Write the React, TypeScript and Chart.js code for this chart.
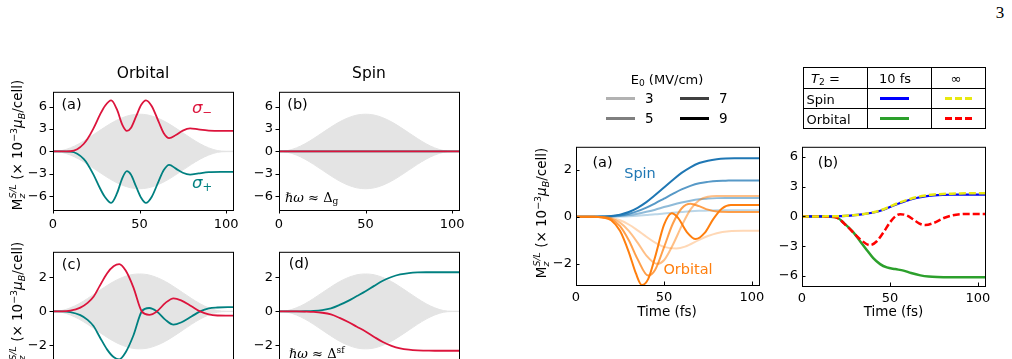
import React, { useEffect, useRef } from "react";
import { Chart, registerables } from "chart.js";
Chart.register(...registerables);

// ---------- ticks ----------
const X_TICKS = [0, 50, 100];
const Y_TICKS_BIG = [-6, -3, 0, 3, 6];
const Y_TICKS_SMALL = [-2, 0, 2];

// ---------- shared time grid (fs) ----------
const T5 = [0, 5, 10, 15, 20, 25, 30, 35, 40, 45, 50, 55, 60, 65, 70, 75, 80, 85, 90, 95, 100, 104];

// ---------- laser field envelopes (grey bands) ----------
const ENV_BIG_UP = [0.03, 0.12, 0.48, 1.03, 1.73, 2.5, 3.27, 3.97, 4.52, 4.88, 5.0, 4.88, 4.52, 3.97, 3.27, 2.5, 1.73, 1.03, 0.48, 0.12, 0.03, 0.03];
const ENV_BIG_LO = [-0.03, -0.12, -0.48, -1.03, -1.73, -2.5, -3.27, -3.97, -4.52, -4.88, -5.0, -4.88, -4.52, -3.97, -3.27, -2.5, -1.73, -1.03, -0.48, -0.12, -0.03, -0.03];
const ENV_SMALL_UP = [0.01, 0.05, 0.21, 0.45, 0.76, 1.1, 1.44, 1.75, 1.99, 2.15, 2.2, 2.15, 1.99, 1.75, 1.44, 1.1, 0.76, 0.45, 0.21, 0.05, 0.01, 0.01];
const ENV_SMALL_LO = [-0.01, -0.05, -0.21, -0.45, -0.76, -1.1, -1.44, -1.75, -1.99, -2.15, -2.2, -2.15, -1.99, -1.75, -1.44, -1.1, -0.76, -0.45, -0.21, -0.05, -0.01, -0.01];

// ---------- left (a) Orbital, hw ~ Delta_g ----------
const ORB_A_T = [0, 5, 10, 14, 17.7, 20, 23.4, 27.3, 30, 33.6, 37, 40, 42.7, 45, 48, 51, 53.7, 57, 61, 64, 67.1, 71, 75, 79.2, 84, 90, 97, 104];
const ORB_A_SIGMA_MINUS = [0, 0, 0.03, 0.3, 1.0, 1.7, 3.1, 5.0, 6.1, 6.85, 5.6, 3.6, 2.75, 3.15, 4.7, 6.25, 6.85, 6.1, 4.0, 2.45, 1.8, 2.2, 2.8, 3.1, 2.95, 2.8, 2.75, 2.75];
const ORB_A_SIGMA_PLUS = [0, 0, -0.03, -0.3, -1.0, -1.7, -3.1, -5.0, -6.1, -6.9, -5.6, -3.6, -2.65, -3.1, -4.7, -6.25, -6.9, -6.1, -4.0, -2.5, -1.8, -2.3, -2.85, -3.1, -2.95, -2.78, -2.74, -2.74];

// ---------- left (b) Spin, hw ~ Delta_g ----------
const SPIN_B_T = [0, 104];
const SPIN_B_SIGMA_MINUS = [0, 0];
const SPIN_B_SIGMA_PLUS = [0, 0];

// ---------- left (c) Orbital, hw ~ Delta_sf ----------
const ORB_C_T = [0, 5, 10, 15.8, 20, 23.4, 27, 31.2, 35, 38.3, 42, 46.5, 51.3, 55.6, 60, 65, 69.6, 74, 80, 85, 90, 95, 104];
const ORB_C_SIGMA_MINUS = [0, 0, 0.04, 0.22, 0.5, 0.86, 1.5, 2.23, 2.65, 2.78, 2.4, 1.4, 0.0, -0.2, 0.0, 0.5, 0.77, 0.65, 0.3, 0.0, -0.18, -0.24, -0.25];
const ORB_C_SIGMA_PLUS = [0, 0, -0.04, -0.22, -0.5, -0.86, -1.5, -2.23, -2.68, -2.82, -2.4, -1.4, 0.0, 0.2, 0.0, -0.5, -0.78, -0.65, -0.3, 0.0, 0.18, 0.23, 0.25];

// ---------- left (d) Spin, hw ~ Delta_sf (on T5) ----------
const SPIN_D_SIGMA_PLUS = [0, 0, 0, 0.01, 0.03, 0.08, 0.18, 0.38, 0.62, 0.9, 1.18, 1.5, 1.8, 2.02, 2.17, 2.25, 2.29, 2.3, 2.3, 2.3, 2.3, 2.3];
const SPIN_D_SIGMA_MINUS = [0, 0, 0, -0.01, -0.03, -0.08, -0.18, -0.38, -0.62, -0.9, -1.18, -1.5, -1.8, -2.02, -2.17, -2.25, -2.29, -2.3, -2.31, -2.31, -2.31, -2.31];

// ---------- right (a) E0 dependence ----------
const E0_LEVELS = ["3", "5", "7", "9"];
const E0_ALPHAS = [0.3, 0.5, 0.75, 1];
const RA_SPIN_3 = [0, 0, 0, 0, 0, 0.01, 0.02, 0.04, 0.07, 0.1, 0.14, 0.17, 0.2, 0.23, 0.25, 0.26, 0.27, 0.27, 0.27, 0.27, 0.27, 0.27];
const RA_SPIN_5 = [0, 0, 0, 0, 0.01, 0.03, 0.07, 0.13, 0.21, 0.3, 0.41, 0.51, 0.6, 0.68, 0.74, 0.77, 0.79, 0.8, 0.8, 0.8, 0.8, 0.8];
const RA_SPIN_7 = [0, 0, 0, 0.01, 0.02, 0.06, 0.13, 0.24, 0.39, 0.57, 0.77, 0.97, 1.16, 1.31, 1.42, 1.48, 1.52, 1.53, 1.54, 1.54, 1.54, 1.54];
const RA_SPIN_9 = [0, 0, 0, 0.01, 0.03, 0.09, 0.2, 0.38, 0.62, 0.92, 1.24, 1.56, 1.86, 2.1, 2.28, 2.38, 2.44, 2.47, 2.48, 2.48, 2.48, 2.48];
const RA_ORB_3_T = [0, 10, 15, 20, 25, 30, 35, 40, 45, 50, 57, 62, 70, 75, 80, 87, 95, 104];
const RA_ORB_3 = [0, 0, -0.01, -0.05, -0.15, -0.33, -0.58, -0.85, -1.1, -1.28, -1.35, -1.27, -0.98, -0.82, -0.7, -0.62, -0.6, -0.6];
const RA_ORB_5_T = [0, 10, 15, 20, 25, 30, 35, 40, 46, 50, 55, 60, 65, 70, 75, 80, 90, 104];
const RA_ORB_5 = [0, 0, -0.01, -0.07, -0.25, -0.6, -1.1, -1.65, -2.0, -1.85, -1.2, -0.4, 0.3, 0.7, 0.85, 0.88, 0.88, 0.88];
const RA_ORB_7_T = [0, 10, 15, 20, 25, 30, 35, 41, 45, 50, 55, 60, 65, 70, 75, 80, 90, 104];
const RA_ORB_7 = [0, 0, -0.02, -0.1, -0.4, -1.0, -1.8, -2.5, -2.25, -1.3, -0.3, 0.35, 0.55, 0.45, 0.3, 0.22, 0.2, 0.2];
const RA_ORB_9_T = [0, 10, 15, 20, 25, 30, 34, 37.4, 41, 45, 50, 54.4, 58, 63, 68, 73, 78, 83, 88, 95, 104];
const RA_ORB_9 = [0, 0, -0.03, -0.15, -0.6, -1.5, -2.4, -2.9, -2.65, -1.7, -0.35, 0.15, -0.05, -0.65, -0.95, -0.7, -0.1, 0.35, 0.5, 0.5, 0.5];

// ---------- right (b) T2 dependence ----------
const RB_SPIN_10FS = [0, 0, 0, 0.01, 0.02, 0.06, 0.13, 0.23, 0.37, 0.6, 0.95, 1.3, 1.6, 1.85, 2.02, 2.11, 2.16, 2.18, 2.19, 2.2, 2.2, 2.2];
const RB_SPIN_INF = [0, 0, 0, 0.01, 0.02, 0.06, 0.13, 0.24, 0.39, 0.63, 1.0, 1.36, 1.67, 1.93, 2.1, 2.2, 2.26, 2.29, 2.31, 2.32, 2.33, 2.33];
const RB_ORB_10FS_T = [0, 10, 15, 19.7, 24, 29.2, 33, 36.8, 40.5, 44.4, 48.2, 53, 57.7, 62, 67.3, 72, 76.8, 85, 95, 104];
const RB_ORB_10FS = [0, 0, -0.03, -0.1, -0.7, -1.6, -2.5, -3.37, -4.2, -4.8, -5.13, -5.3, -5.45, -5.7, -5.93, -6.05, -6.1, -6.12, -6.12, -6.12];
const RB_ORB_INF_T = [0, 10, 15, 20, 25.4, 29, 33, 38.7, 42.5, 46.3, 50, 53, 55.8, 59.5, 63.4, 66.5, 70.1, 75, 80.6, 85, 90.1, 96, 104];
const RB_ORB_INF = [0, 0, -0.03, -0.15, -0.96, -1.6, -2.3, -2.89, -2.5, -1.6, -0.6, 0, 0.22, 0.1, -0.32, -0.7, -0.87, -0.65, -0.16, 0.08, 0.22, 0.25, 0.25];

const TABLE_HEAD = ["10 fs", "∞"];
const TABLE_ROWS = ["Spin", "Orbital"];

// ---------- styling ----------
const CRIMSON = "#dc143c";
const TEAL = "#008080";
const GREY_BAND = "#e4e4e4";
const FONT = "'DejaVu Sans', sans-serif";
const TICK_SIZE = 13;
const rgbaBlue = (a: number) => `rgba(31,119,180,${a})`;
const rgbaOrange = (a: number) => `rgba(255,127,14,${a})`;

const PAD_L = 45, PAD_T = 6, PAD_R = 16, PAD_B = 30;

type Series = { t: number[]; v: number[]; color: string; width: number; dash?: number[]; order: number; fill?: any; bg?: string };
type Rect = { L: number; T: number; R: number; B: number };

const fmt = (n: number) => (n < 0 ? "\u2212" + Math.abs(n) : String(n));

function Panel(props: { rect: Rect; ymin: number; ymax: number; yticks: number[]; tickIn: boolean; showX: boolean; series: Series[] }) {
  const ref = useRef<HTMLCanvasElement>(null);
  const { L, T, R, B } = props.rect;
  const w = R - L + PAD_L + PAD_R;
  const h = B - T + PAD_T + PAD_B;
  useEffect(() => {
    const canvas = ref.current!;
    const tickIn = props.tickIn;
    const frame = {
      id: "frame",
      afterDatasetsDraw(chart: any) {
        const { ctx, chartArea: a, scales } = chart;
        ctx.save();
        ctx.strokeStyle = "#000";
        ctx.lineWidth = 1;
        ctx.strokeRect(a.left + 0.5, a.top + 0.5, a.right - a.left, a.bottom - a.top);
        const len = 3.5;
        ctx.beginPath();
        for (const v of X_TICKS) {
          const x = Math.round(scales.x.getPixelForValue(v)) + 0.5;
          ctx.moveTo(x, a.bottom);
          ctx.lineTo(x, tickIn ? a.bottom - len : a.bottom + len);
        }
        for (const v of props.yticks) {
          const y = Math.round(scales.y.getPixelForValue(v)) + 0.5;
          ctx.moveTo(a.left, y);
          ctx.lineTo(tickIn ? a.left + len : a.left - len, y);
        }
        ctx.stroke();
        ctx.restore();
      },
    };
    const datasets = props.series.map((s) => ({
      data: s.t.map((x, i) => ({ x, y: s.v[i] })),
      borderColor: s.color,
      borderWidth: s.width,
      borderDash: s.dash || [],
      backgroundColor: s.bg || "transparent",
      fill: s.fill ?? false,
      order: s.order,
      pointRadius: 0,
      cubicInterpolationMode: "monotone",
    }));
    const chart = new Chart(canvas, {
      type: "line",
      data: { datasets } as any,
      options: {
        animation: false,
        responsive: false,
        devicePixelRatio: 1,
        events: [],
        layout: { padding: { left: 0, top: PAD_T, right: PAD_R, bottom: 0 } },
        plugins: {
          legend: { display: false },
          tooltip: { enabled: false },
          filler: { propagate: false, drawTime: "beforeDatasetsDraw" },
        },
        scales: {
          x: {
            type: "linear",
            min: 0,
            max: 104,
            afterBuildTicks: (s: any) => { s.ticks = X_TICKS.map((v) => ({ value: v })); },
            afterFit: (s: any) => { s.height = PAD_B; },
            grid: { display: false, drawTicks: false },
            border: { display: false },
            ticks: { display: props.showX, padding: tickIn ? 5 : 7, color: "#000", font: { family: FONT, size: TICK_SIZE }, maxRotation: 0, autoSkip: false, callback: (v: any) => fmt(Number(v)) },
          },
          y: {
            type: "linear",
            min: props.ymin,
            max: props.ymax,
            afterBuildTicks: (s: any) => { s.ticks = props.yticks.map((v) => ({ value: v })); },
            afterFit: (s: any) => { s.width = PAD_L; },
            grid: { display: false, drawTicks: false },
            border: { display: false },
            ticks: { padding: tickIn ? 4 : 6, color: "#000", font: { family: FONT, size: TICK_SIZE }, autoSkip: false, callback: (v: any) => fmt(Number(v)) },
          },
        },
      } as any,
      plugins: [frame],
    });
    return () => chart.destroy();
  }, []);
  return (
    <canvas
      ref={ref}
      width={w}
      height={h}
      style={{ position: "absolute", left: L - PAD_L, top: T - PAD_T, width: w, height: h }}
    />
  );
}

function Txt(props: { x: number; y: number; align?: string; style?: any; children: any }) {
  const tx = props.align === "left" ? "0" : props.align === "right" ? "-100%" : "-50%";
  return (
    <div style={{ position: "absolute", left: props.x, top: props.y, transform: `translate(${tx},-50%)`, whiteSpace: "nowrap", lineHeight: 1, ...props.style }}>
      {props.children}
    </div>
  );
}

const SUB = { fontSize: "0.7em", verticalAlign: "-0.25em", lineHeight: 0 };
const SUP = { fontSize: "0.7em", verticalAlign: "0.5em", lineHeight: 0 };

function YLabel(props: { x: number; y: number }) {
  return (
    <div style={{ position: "absolute", left: props.x, top: props.y, transform: "translate(-50%,-50%) rotate(-90deg)", whiteSpace: "nowrap", fontSize: 13.5, lineHeight: 1, fontFamily: FONT }}>
      M
      <span style={{ display: "inline-block", verticalAlign: "-0.3em", fontSize: "0.7em", lineHeight: 1, fontStyle: "italic" }}>
        <span style={{ display: "block" }}>S/L</span>
        <span style={{ display: "block" }}>z</span>
      </span>
      {" (\u00d7 10"}
      <span style={SUP}>{"\u22123"}</span>
      <i>μ</i>
      <span style={{ ...SUB, fontStyle: "italic" }}>B</span>
      /cell)
    </div>
  );
}

function HLine(props: { x1: number; x2: number; y: number; color: string; dashed?: boolean; thick?: number }) {
  const th = props.thick ?? 3;
  const bg = props.dashed
    ? `repeating-linear-gradient(90deg, ${props.color} 0 7px, transparent 7px 10px)`
    : props.color;
  return <div style={{ position: "absolute", left: props.x1, top: props.y - th / 2, width: props.x2 - props.x1, height: th, background: bg }} />;
}

export default function App() {
  const band = (up: number[], lo: number[]): Series[] => [
    { t: T5, v: up, color: GREY_BAND, width: 1, order: 10, fill: "+1", bg: GREY_BAND },
    { t: T5, v: lo, color: GREY_BAND, width: 1, order: 11 },
  ];
  const leftBig = { ymin: -7.85, ymax: 8.0, yticks: Y_TICKS_BIG, tickIn: false };
  const leftSmall = { ymin: -3.5, ymax: 3.5, yticks: Y_TICKS_SMALL, tickIn: false };

  const raSeries: Series[] = [
    { t: RA_ORB_9_T, v: RA_ORB_9, color: rgbaOrange(E0_ALPHAS[3]), width: 2, order: 1 },
    { t: RA_ORB_7_T, v: RA_ORB_7, color: rgbaOrange(E0_ALPHAS[2]), width: 2, order: 2 },
    { t: RA_ORB_5_T, v: RA_ORB_5, color: rgbaOrange(E0_ALPHAS[1]), width: 2, order: 3 },
    { t: RA_ORB_3_T, v: RA_ORB_3, color: rgbaOrange(E0_ALPHAS[0]), width: 2, order: 4 },
    { t: T5, v: RA_SPIN_9, color: rgbaBlue(E0_ALPHAS[3]), width: 2, order: 5 },
    { t: T5, v: RA_SPIN_7, color: rgbaBlue(E0_ALPHAS[2]), width: 2, order: 6 },
    { t: T5, v: RA_SPIN_5, color: rgbaBlue(E0_ALPHAS[1]), width: 2, order: 7 },
    { t: T5, v: RA_SPIN_3, color: rgbaBlue(E0_ALPHAS[0]), width: 2, order: 8 },
  ];
  const rbSeries: Series[] = [
    { t: T5, v: RB_SPIN_INF, color: "#e8e810", width: 2.5, dash: [7, 3], order: 1 },
    { t: RB_ORB_INF_T, v: RB_ORB_INF, color: "#ff0000", width: 2.5, dash: [7, 3], order: 2 },
    { t: T5, v: RB_SPIN_10FS, color: "#0000ff", width: 2.2, order: 3 },
    { t: RB_ORB_10FS_T, v: RB_ORB_10FS, color: "#2ca02c", width: 2.5, order: 4 },
  ];

  const panelLabel = { fontSize: 14.5, fontFamily: FONT };

  return (
    <div style={{ position: "absolute", left: 0, top: 0, width: 1012, height: 359, overflow: "hidden", background: "#fff", fontFamily: FONT, color: "#000" }}>
      {/* page number */}
      <Txt x={1000} y={12} style={{ fontFamily: "'Liberation Serif', 'DejaVu Serif', serif", fontSize: 17 }}>3</Txt>

      {/* ----- left block ----- */}
      <Panel rect={{ L: 53, T: 84, R: 233, B: 210 }} {...leftBig} showX={true}
        series={[...band(ENV_BIG_UP, ENV_BIG_LO),
          { t: ORB_A_T, v: ORB_A_SIGMA_MINUS, color: CRIMSON, width: 1.8, order: 1 },
          { t: ORB_A_T, v: ORB_A_SIGMA_PLUS, color: TEAL, width: 1.8, order: 2 }]} />
      <Panel rect={{ L: 279, T: 84, R: 459, B: 210 }} {...leftBig} showX={true}
        series={[...band(ENV_BIG_UP, ENV_BIG_LO),
          { t: SPIN_B_T, v: SPIN_B_SIGMA_MINUS, color: CRIMSON, width: 1.8, order: 1 },
          { t: SPIN_B_T, v: SPIN_B_SIGMA_PLUS, color: TEAL, width: 1.8, order: 2 }]} />
      <Panel rect={{ L: 53, T: 244, R: 233, B: 371 }} {...leftSmall} showX={true}
        series={[...band(ENV_SMALL_UP, ENV_SMALL_LO),
          { t: ORB_C_T, v: ORB_C_SIGMA_MINUS, color: CRIMSON, width: 1.8, order: 1 },
          { t: ORB_C_T, v: ORB_C_SIGMA_PLUS, color: TEAL, width: 1.8, order: 2 }]} />
      <Panel rect={{ L: 279, T: 244, R: 459, B: 371 }} {...leftSmall} showX={true}
        series={[...band(ENV_SMALL_UP, ENV_SMALL_LO),
          { t: T5, v: SPIN_D_SIGMA_MINUS, color: CRIMSON, width: 1.8, order: 1 },
          { t: T5, v: SPIN_D_SIGMA_PLUS, color: TEAL, width: 1.8, order: 2 }]} />

      <Txt x={143} y={74} style={{ fontSize: 15.5 }}>Orbital</Txt>
      <Txt x={369} y={74} style={{ fontSize: 15.5 }}>Spin</Txt>
      <YLabel x={17} y={145} />
      <YLabel x={17} y={307} />
      <Txt x={71.5} y={104} style={panelLabel}>(a)</Txt>
      <Txt x={297.5} y={104} style={panelLabel}>(b)</Txt>
      <Txt x={71.5} y={264} style={panelLabel}>(c)</Txt>
      <Txt x={299} y={262.5} style={panelLabel}>(d)</Txt>
      <Txt x={202} y={107.5} style={{ fontSize: 16.5, color: CRIMSON }}><i>σ</i><span style={SUB}>−</span></Txt>
      <Txt x={202} y={182.5} style={{ fontSize: 16.5, color: TEAL }}><i>σ</i><span style={SUB}>+</span></Txt>
      <Txt x={285} y={197} align="left" style={{ fontFamily: "'DejaVu Serif', serif", fontSize: 13 }}>
        <i>ℏω</i> ≈ Δ<span style={SUB}>g</span>
      </Txt>
      <Txt x={289} y={353} align="left" style={{ fontFamily: "'DejaVu Serif', serif", fontSize: 13 }}>
        <i>ℏω</i> ≈ Δ<span style={SUP}>sf</span>
      </Txt>

      {/* ----- right block ----- */}
      <Panel rect={{ L: 576, T: 141, R: 759, B: 285 }} ymin={-2.9} ymax={2.97} yticks={Y_TICKS_SMALL} tickIn={true} showX={true} series={raSeries} />
      <Panel rect={{ L: 802, T: 141, R: 985, B: 286 }} ymin={-7} ymax={7} yticks={Y_TICKS_BIG} tickIn={true} showX={true} series={rbSeries} />
      <YLabel x={541} y={213} />
      <Txt x={667} y={312} style={{ fontSize: 13.5 }}>Time (fs)</Txt>
      <Txt x={893.5} y={312} style={{ fontSize: 13.5 }}>Time (fs)</Txt>
      <Txt x={602.5} y={162} style={panelLabel}>(a)</Txt>
      <Txt x={828} y={162} style={panelLabel}>(b)</Txt>
      <Txt x={640} y={172.5} style={{ fontSize: 14.5, color: "#1f77b4" }}>Spin</Txt>
      <Txt x={688} y={269} style={{ fontSize: 14.5, color: "#ff7f0e" }}>Orbital</Txt>

      {/* E0 legend */}
      <Txt x={667} y={79} style={{ fontSize: 13 }}>E<span style={SUB}>0</span> (MV/cm)</Txt>
      {E0_LEVELS.map((lab, i) => {
        const col = i < 2 ? 0 : 1;
        const row = i % 2;
        const x1 = col === 0 ? 606 : 680;
        const y = row === 0 ? 98.5 : 118.5;
        return (
          <React.Fragment key={lab}>
            <HLine x1={x1} x2={x1 + 29} y={y} color={`rgba(0,0,0,${E0_ALPHAS[i]})`} thick={2.5} />
            <Txt x={x1 + 39} y={y} align="left" style={{ fontSize: 13.5 }}>{lab}</Txt>
          </React.Fragment>
        );
      })}

      {/* T2 table */}
      {[803, 867, 931, 985].map((x) => (
        <div key={"v" + x} style={{ position: "absolute", left: x, top: 67, width: 1, height: 62, background: "#000" }} />
      ))}
      {[67, 88, 108, 128].map((y) => (
        <div key={"h" + y} style={{ position: "absolute", left: 803, top: y, width: 183, height: 1, background: "#000" }} />
      ))}
      <Txt x={825.5} y={78} style={{ fontSize: 13 }}><i>T</i><span style={SUB}>2</span> =</Txt>
      <Txt x={895} y={78} style={{ fontSize: 13 }}>{TABLE_HEAD[0]}</Txt>
      <Txt x={956} y={78} style={{ fontSize: 13 }}>{TABLE_HEAD[1]}</Txt>
      <Txt x={806.5} y={98.5} align="left" style={{ fontSize: 13 }}>{TABLE_ROWS[0]}</Txt>
      <Txt x={806.5} y={118.5} align="left" style={{ fontSize: 13 }}>{TABLE_ROWS[1]}</Txt>
      <HLine x1={880} x2={909} y={98.5} color="#0000ff" thick={2.5} />
      <HLine x1={945} x2={973} y={98.5} color="#e8e810" dashed thick={2.5} />
      <HLine x1={880} x2={909} y={118.5} color="#2ca02c" thick={2.5} />
      <HLine x1={945} x2={973} y={118.5} color="#ff0000" dashed thick={2.5} />
    </div>
  );
}
